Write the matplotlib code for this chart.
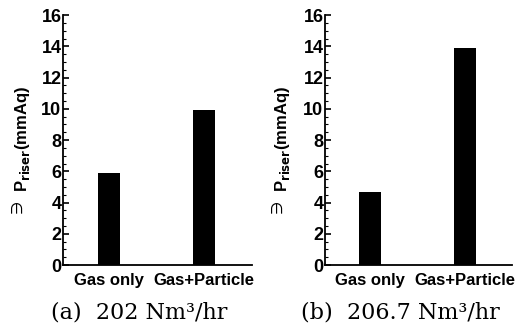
import matplotlib.pyplot as plt
from matplotlib.ticker import MultipleLocator

categories = ['Gas only', 'Gas+Particle']
dp_202 = [5.9, 9.9]
dp_2067 = [4.7, 13.9]
captions = ['(a)  202 Nm³/hr', '(b)  206.7 Nm³/hr']

fig = plt.figure(figsize=(5.24, 3.36), dpi=100)
fig.patch.set_facecolor('white')

panels = [
    (fig.add_axes([0.120, 0.211, 0.361, 0.744]), dp_202, captions[0], 0.032, 0.265),
    (fig.add_axes([0.620, 0.211, 0.357, 0.744]), dp_2067, captions[1], 0.529, 0.765),
]

x = range(len(categories))
for ax, vals, cap, lx, cx in panels:
    ax.bar(x, vals, width=0.23, color='black')
    ax.set_xlim(-0.48, 1.5)
    ax.set_ylim(0, 16)
    ax.yaxis.set_major_locator(MultipleLocator(2))
    ax.yaxis.set_minor_locator(MultipleLocator(0.5))
    ax.tick_params(axis='y', which='major', direction='in', length=4, width=1.2,
                   labelsize=13, pad=1)
    ax.tick_params(axis='y', which='minor', direction='in', length=2, width=0.8)
    ax.tick_params(axis='x', length=0, labelsize=12, pad=6)
    ax.set_xticks(list(x))
    ax.set_xticklabels(categories)
    for lab in ax.get_xticklabels() + ax.get_yticklabels():
        lab.set_fontweight('heavy')
        lab.set_family('Liberation Sans')
    for s in ['top', 'right']:
        ax.spines[s].set_visible(False)
    for s in ['left', 'bottom']:
        ax.spines[s].set_linewidth(1.3)
    # y label
    fig.text(lx + 0.011, 0.585, r'P$_{\mathbf{riser}}$(mmAq)', rotation=90,
             ha='center', va='center', fontsize=12, fontweight='bold',
             family='Liberation Sans')
    fig.text(lx, 0.385, '∋', rotation=90, ha='center', va='center', fontsize=11,
             family='DejaVu Sans')
    # caption
    fig.text(cx, 0.071, cap, ha='center', va='center', fontsize=16,
             family='DejaVu Serif')

fig.savefig('out.png', dpi=100)
